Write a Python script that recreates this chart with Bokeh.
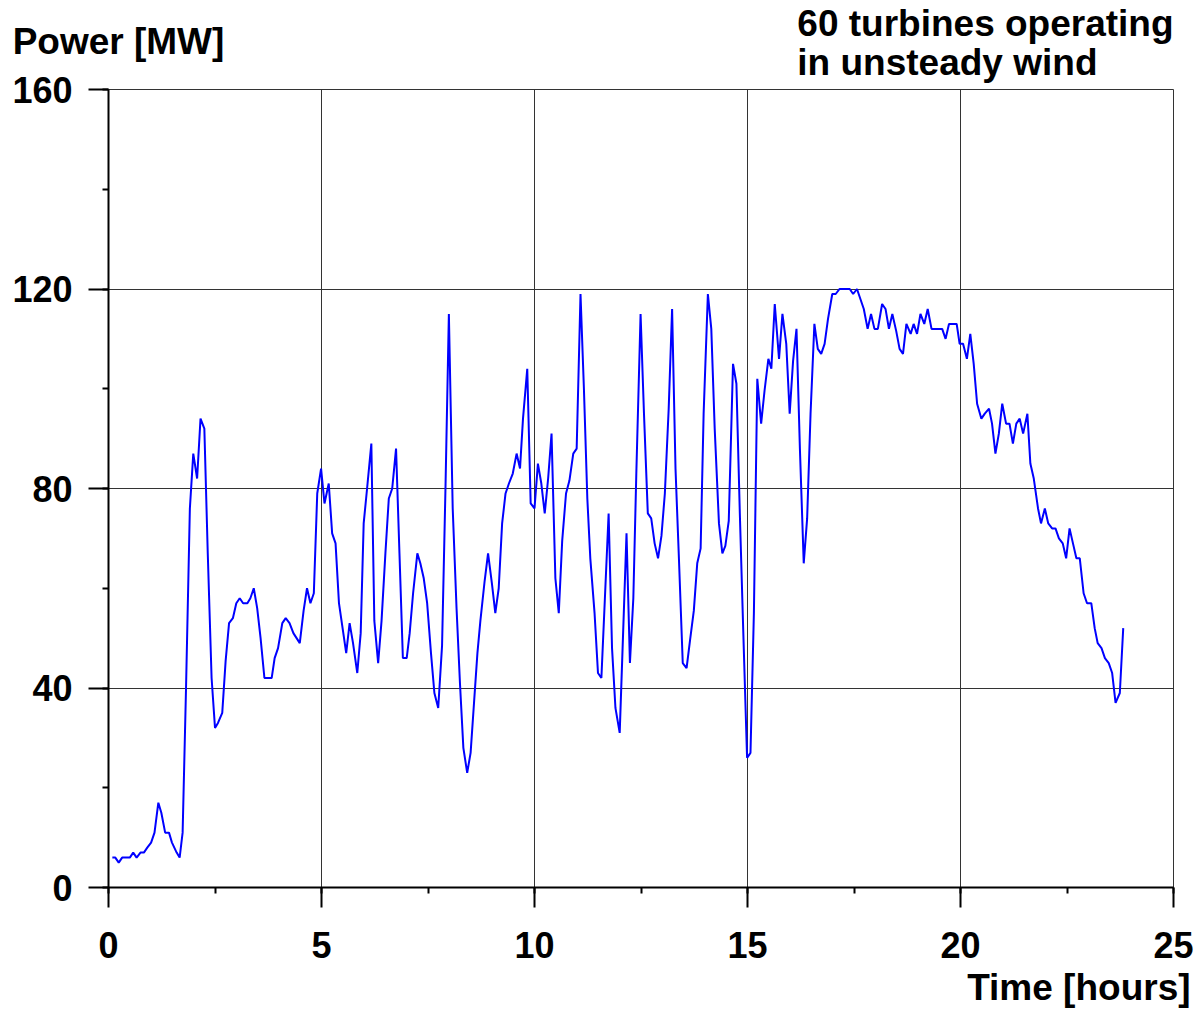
from bokeh.plotting import figure
from bokeh.layouts import column
from bokeh.models import Range1d, SingleIntervalTicker, Label
from bokeh.embed import file_html
from bokeh.resources import INLINE

# Data (time in hours, power in MW)
time_h = [0.09, 0.16, 0.24, 0.32, 0.50, 0.58, 0.66, 0.75, 0.83, 0.91, 1.00, 1.08, 1.17, 1.24, 1.33,
          1.42, 1.49, 1.60, 1.67, 1.74, 1.82, 1.91, 1.99, 2.08, 2.16, 2.25, 2.33, 2.42, 2.50, 2.57,
          2.67, 2.75, 2.83, 2.92, 3.00, 3.08, 3.16, 3.26, 3.33, 3.41, 3.49, 3.57, 3.66, 3.83, 3.90,
          3.98, 4.08, 4.16, 4.25, 4.34, 4.49, 4.58, 4.66, 4.74, 4.82, 4.90, 4.99, 5.07, 5.17, 5.25,
          5.33, 5.41, 5.58, 5.66, 5.74, 5.84, 5.92, 5.99, 6.07, 6.17, 6.24, 6.33, 6.41, 6.50, 6.58,
          6.66, 6.75, 6.83, 6.91, 7.00, 7.07, 7.15, 7.25, 7.32, 7.40, 7.48, 7.57, 7.65, 7.74, 7.83,
          7.91, 7.99, 8.08, 8.17, 8.25, 8.33, 8.42, 8.50, 8.58, 8.66, 8.73, 8.83, 8.91, 9.00, 9.08,
          9.16, 9.24, 9.32, 9.40, 9.49, 9.58, 9.66, 9.73, 9.83, 9.91, 10.00, 10.08, 10.16, 10.24, 10.32,
          10.40, 10.49, 10.57, 10.65, 10.74, 10.82, 10.91, 10.99, 11.08, 11.16, 11.24, 11.31, 11.41, 11.49, 11.57,
          11.65, 11.74, 11.82, 11.90, 12.00, 12.16, 12.24, 12.32, 12.39, 12.49, 12.57, 12.66, 12.74, 12.82, 12.90,
          12.98, 13.06, 13.15, 13.23, 13.31, 13.39, 13.48, 13.57, 13.65, 13.74, 13.82, 13.90, 13.97, 14.07, 14.15,
          14.23, 14.33, 14.41, 14.48, 14.56, 14.66, 14.74, 14.82, 14.90, 14.99, 15.07, 15.15, 15.23, 15.32, 15.40,
          15.49, 15.56, 15.64, 15.74, 15.82, 15.91, 15.99, 16.07, 16.15, 16.23, 16.32, 16.40, 16.48, 16.57, 16.65,
          16.73, 16.81, 16.89, 16.99, 17.07, 17.16, 17.40, 17.48, 17.57, 17.65, 17.73, 17.82, 17.90, 17.98, 18.06,
          18.16, 18.24, 18.32, 18.40, 18.49, 18.57, 18.65, 18.73, 18.83, 18.90, 18.98, 19.06, 19.15, 19.23, 19.32,
          19.57, 19.65, 19.73, 19.91, 19.98, 20.06, 20.15, 20.23, 20.31, 20.39, 20.49, 20.57, 20.67, 20.74, 20.82,
          20.90, 20.98, 21.07, 21.15, 21.23, 21.31, 21.39, 21.47, 21.57, 21.64, 21.72, 21.82, 21.89, 21.98, 22.06,
          22.15, 22.23, 22.31, 22.40, 22.48, 22.56, 22.64, 22.72, 22.80, 22.89, 22.97, 23.07, 23.15, 23.22, 23.31,
          23.39, 23.48, 23.56, 23.64, 23.74, 23.82]

power_mw = [6, 6, 5, 6, 6, 7, 6, 7, 7, 8, 9, 11, 17, 15, 11,
            11, 9, 7, 6, 11, 40, 76, 87, 82, 94, 92, 67, 42, 32, 33,
            35, 45.5, 53, 54, 57, 58, 57, 57, 58, 60, 56, 50, 42, 42, 46,
            48, 53, 54, 53, 51, 49, 55.5, 60, 57, 59, 79, 84, 77, 81, 71,
            69, 57, 47, 53, 49, 43, 51, 73, 80, 89, 53.5, 45, 53.5, 67, 78,
            80, 88, 67, 46, 46, 51, 59, 67, 65, 62, 57, 47, 39, 36, 48.5,
            80, 115, 76, 56, 41, 28, 23, 27, 37, 47, 53.5, 61.5, 67, 61, 55,
            60, 73, 79, 81, 83, 87, 84, 94, 104, 77, 76, 85, 81, 75, 82,
            91, 62, 55, 69.5, 79, 81.6, 87, 88, 119, 100, 78, 66, 55, 43, 42,
            57.5, 75, 48, 36, 31, 71, 45, 58, 83, 115, 95, 75, 74, 69, 66,
            70.5, 79, 96, 116, 84, 66, 45, 44, 49.5, 55.5, 65, 68, 95, 119, 112,
            92, 73, 67, 68.5, 73.5, 105, 101, 75, 51.5, 26, 27, 55, 102, 93, 99.6,
            106, 104, 117, 106, 115, 109, 95, 105.6, 112, 88, 65, 74, 95, 113, 108,
            107, 109, 114, 119, 119, 120, 120, 119, 120, 118, 116, 112, 115, 112, 112,
            117, 116, 112, 115, 111.6, 108, 107, 113, 111, 113, 111, 115, 113, 116, 112,
            112, 110, 113, 113, 109, 109, 106, 111, 105, 97, 94, 95, 96, 93, 87,
            91, 97, 93, 93, 89, 93, 94, 91, 95, 85, 82, 76, 73, 76, 73,
            72, 72, 70, 69, 66, 72, 69, 66, 66, 59, 57, 57, 52, 49, 48,
            46, 45, 43, 37, 39, 52]

x_start, x_end, x_step = 0, 25, 5
y_start, y_end, y_step = 0, 160, 40

y_title = "Power [MW]"
x_title = "Time [hours]"
note_lines = ["60 turbines operating", "in unsteady wind"]

FONT = "Liberation Sans"

# page geometry
W, H = 1195, 1009
B_LEFT, B_RIGHT, B_TOP, B_BOTTOM = 108, 22, 89, 122
frame_w = W - B_LEFT - B_RIGHT
frame_h = H - B_TOP - B_BOTTOM
px_x = frame_w / (x_end - x_start)
px_y = frame_h / (y_end - y_start)

# ---- header strip (transparent) holding the texts above the plot frame
header = figure(width=W, height=B_TOP, output_backend="svg", toolbar_location=None,
                x_range=Range1d(x_start - B_LEFT / px_x, x_end + B_RIGHT / px_x),
                y_range=Range1d(y_end, y_end + B_TOP / px_y),
                x_axis_location=None, y_axis_location=None,
                min_border_left=0, min_border_right=0, min_border_top=0, min_border_bottom=0)
header.frame_align = False
header.grid.visible = False
header.outline_line_color = None
header.background_fill_color = None
header.border_fill_color = None

def header_text(x, y, txt):
    header.add_layout(Label(x=x, y=y, text=txt, text_align="left", text_baseline="middle",
                            text_font=FONT, text_font_style="bold", text_font_size="37px",
                            text_color="black"))

header_text(-2.25, 169.7, y_title)
header_text(16.17, 173.3, note_lines[0])
header_text(16.17, 165.5, note_lines[1])

# ---- main plot
p = figure(width=W, height=H, output_backend="svg", toolbar_location=None,
           x_range=Range1d(x_start, x_end), y_range=Range1d(y_start, y_end),
           min_border_left=B_LEFT, min_border_right=B_RIGHT,
           min_border_top=B_TOP, min_border_bottom=B_BOTTOM,
           margin=(-B_TOP, 0, 0, 0))
p.frame_align = False
p.background_fill_color = "white"
p.border_fill_color = None
p.outline_line_color = "#333333"
p.outline_line_width = 1

p.line(time_h, power_mw, line_color="#0000ff", line_width=2)

p.xaxis.ticker = SingleIntervalTicker(interval=x_step, num_minor_ticks=2)
p.yaxis.ticker = SingleIntervalTicker(interval=y_step, num_minor_ticks=2)

for ax in (p.xaxis, p.yaxis):
    ax.axis_line_color = "black"
    ax.axis_line_width = 2
    ax.major_tick_line_color = "black"
    ax.major_tick_line_width = 2
    ax.major_tick_out = 20
    ax.major_tick_in = 0
    ax.minor_tick_line_color = "black"
    ax.minor_tick_line_width = 2
    ax.minor_tick_out = 6
    ax.minor_tick_in = 0
    ax.major_label_text_font = FONT
    ax.major_label_text_font_style = "bold"
    ax.major_label_text_font_size = "36px"
    ax.major_label_text_color = "black"
p.xaxis.major_label_standoff = 24
p.yaxis.major_label_standoff = 16

p.xgrid.grid_line_color = "#333333"
p.ygrid.grid_line_color = "#333333"
p.xgrid.grid_line_width = 1
p.ygrid.grid_line_width = 1

p.add_layout(Label(x=25.4, y=-20.0, text=x_title, text_align="right", text_baseline="middle",
                   text_font=FONT, text_font_style="bold", text_font_size="37px",
                   text_color="black"), "below")

layout = column(header, p, spacing=0)
open("out.html", "w").write(file_html(layout, INLINE))
